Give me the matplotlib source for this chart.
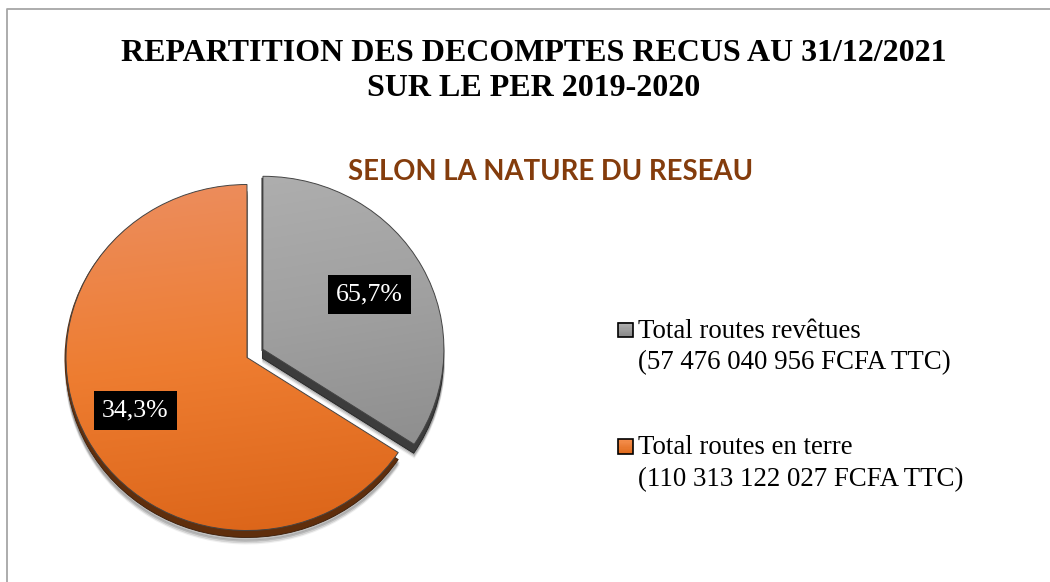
import numpy as np
import matplotlib
matplotlib.use("Agg")
import matplotlib.pyplot as plt
from matplotlib.patches import Rectangle
from matplotlib.legend_handler import HandlerBase
from matplotlib.colors import to_rgb

title = "REPARTITION DES DECOMPTES RECUS AU 31/12/2021\nSUR LE PER 2019-2020"
subtitle = "SELON LA NATURE DU RESEAU"
amounts = [57476040956, 110313122027]
pct_labels = ["65,7%", "34,3%"]
legend_labels = ["Total routes revêtues\n(57 476 040 956 FCFA TTC)",
                 "Total routes en terre\n(110 313 122 027 FCFA TTC)"]
explode = [0.1, 0]

W, H = 1050, 582
grad_top = ["#AEAEAE", "#EC8E60"]
grad_mid = ["#A0A0A0", "#EE7D31"]
grad_bot = ["#8E8E8E", "#DB6418"]
depth_col = ["#3C3C3C", "#5F2E0C"]

fig = plt.figure(figsize=(W / 100, H / 100), dpi=100, facecolor="white")

# outer chart frame (open on the right and bottom, cropped in the reference)
frame = fig.add_axes([0, 0, 1, 1], zorder=0)
frame.set_xlim(0, W); frame.set_ylim(H, 0); frame.axis("off")
frame.plot([6.5, 6.5, W], [H, 8.5, 8.5], color="#A6A6A6", lw=1.3)

# pie axes, slightly squashed vertically
cx, cy, rx, ry = 247, 357.5, 181, 173
L = 1.3
ax = fig.add_axes([(cx - rx * L) / W, 1 - (cy + ry * L) / H, 2 * rx * L / W, 2 * ry * L / H], zorder=1)

def pie(colors, center=(0, 0), **kw):
    return ax.pie(amounts, explode=explode, startangle=90, counterclock=False,
                  colors=colors, center=center, radius=1, **kw)

# soft drop shadow
for k, a in zip([13, 11.5, 10], [0.06, 0.08, 0.12]):
    w, _ = pie(["#000000"] * 2, center=(0, -k / ry))
    for p in w:
        p.set_alpha(a); p.set_linewidth(1.5); p.set_edgecolor("#000000")
# extruded side: deeper under the grey slice
w, _ = pie([depth_col[0], "none"], center=(-0.5 / rx, -9 / ry))
w[0].set_edgecolor("#222222"); w[0].set_linewidth(0.6)
w, _ = pie(["none", depth_col[1]], center=(0, -7 / ry))
w[1].set_edgecolor("#3a1c08"); w[1].set_linewidth(0.6)
w, _ = pie(depth_col, center=(-1.5 / rx, -1.5 / ry))
# top surface
wedges, texts = pie(["none", "none"], labels=pct_labels, labeldistance=0.67)
for p in wedges:
    p.set_edgecolor("#444444"); p.set_linewidth(0.7); p.set_zorder(3)

yy = np.linspace(0, 1, 256)
xx = np.linspace(0, 1, 256)
X, Y = np.meshgrid(xx, yy)
T = np.clip(0.9 * Y + 0.1 * X, 0, 1)[..., None]
for p, a, m, b in zip(wedges, grad_top, grad_mid, grad_bot):
    a, m, b = map(lambda c: np.array(to_rgb(c)), (a, m, b))
    img = np.where(T < 0.5, a + (m - a) * T * 2, m + (b - m) * (T - 0.5) * 2)
    e = p.get_path().get_extents(p.get_transform())
    d = ax.transData.inverted().transform(e.get_points())
    im = ax.imshow(img, extent=[d[0, 0], d[1, 0], d[0, 1], d[1, 1]], origin="upper",
                   aspect="auto", zorder=2)
    im.set_clip_path(p)

for t in texts:
    t.set(ha="center", va="center", color="white", fontsize=18.6,
          family="Liberation Serif", zorder=5)
    t.set_bbox(dict(facecolor="black", edgecolor="none", pad=6))
px, py = texts[1].get_position()
texts[1].set_position((px - 0.026, py + 0.012))
ax.set_aspect("auto")
ax.set_xlim(-L, L); ax.set_ylim(-L, L)

# titles
fig.text(534 / W, 1 - 53.5 / H, title.split("\n")[0], ha="center", va="center",
         family="Liberation Serif", weight="bold", fontsize=23, color="black")
fig.text(534 / W, 1 - 89 / H, title.split("\n")[1], ha="center", va="center",
         family="Liberation Serif", weight="bold", fontsize=23, color="black")
fig.text(550.5 / W, 1 - 171.5 / H, subtitle, ha="center", va="center",
         family="Lato", weight="bold", fontsize=19.8, color="#843C0C")

class GradSquare(HandlerBase):
    def __init__(self, top, bot):
        super().__init__()
        self.top, self.bot = np.array(to_rgb(top)), np.array(to_rgb(bot))
    def create_artists(self, legend, orig, xd, yd, width, height, fontsize, trans):
        s = 10.5
        x0 = 0
        y0 = height * 0.5 + 6.5
        arts = []
        n = 12
        for i in range(n):
            c = self.top + (self.bot - self.top) * i / (n - 1)
            arts.append(Rectangle((x0, y0 + s * (n - 1 - i) / n), s, s / n + 0.2, fc=c, ec="none", transform=trans))
        arts.append(Rectangle((x0, y0), s, s, fc="none", ec="black", lw=1.2, transform=trans))
        return arts

h1, h2 = Rectangle((0, 0), 1, 1), Rectangle((0, 0), 1, 1)
leg = fig.legend([h1, h2], legend_labels,
                 handler_map={h1: GradSquare("#B0B0B0", "#8A8A8A"), h2: GradSquare("#F58F4E", "#E06C1E")},
                 loc="upper left", bbox_to_anchor=(618 / W, 1 - 318.5 / H), frameon=False,
                 prop={"family": "Liberation Serif", "size": 19.4}, handlelength=0.55,
                 handleheight=0.8, handletextpad=0.2, labelspacing=2.22,
                 borderpad=0, borderaxespad=0, labelcolor="black")
for t in leg.get_texts():
    t.set_linespacing(1.36)
leg.set_zorder(5)
fig.savefig("out.png", dpi=100)
